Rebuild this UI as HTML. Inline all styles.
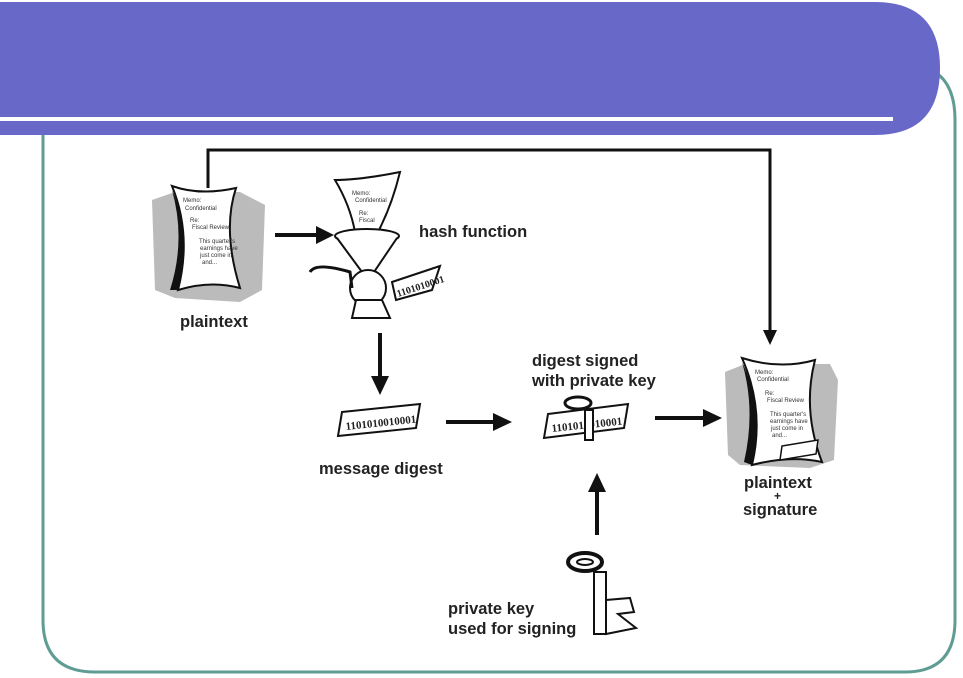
<!DOCTYPE html>
<html><head><style>
html,body{margin:0;padding:0;background:#fff;}
svg{display:block;}
text{font-family:"Liberation Sans",Arial,sans-serif;font-weight:bold;fill:#222;}
.s{font-weight:normal;font-size:6px;fill:#333;}
.l{font-size:16.5px;}
</style></head><body>
<svg width="963" height="678" viewBox="0 0 963 678" xmlns="http://www.w3.org/2000/svg">
<path d="M43,135 V620 Q43,672 95,672 H905 Q955,672 955,620 V120 Q955,85 935,72" fill="none" stroke="#5f9d94" stroke-width="3"/>
<path d="M0,2 H875 Q940,2 940,68 Q940,135 875,135 H0 Z" fill="#6868c8"/>
<rect x="0" y="117" width="893" height="4" fill="#fff"/>

<path d="M208,188 V150 H770 V333" fill="none" stroke="#111" stroke-width="3"/>
<polygon points="763,330 777,330 770,345" fill="#111"/>
<line x1="275" y1="235" x2="320" y2="235" stroke="#111" stroke-width="4"/>
<polygon points="316,226 334,235 316,244" fill="#111"/>
<line x1="380" y1="333" x2="380" y2="380" stroke="#111" stroke-width="4"/>
<polygon points="371,376 389,376 380,395" fill="#111"/>
<line x1="446" y1="422" x2="495" y2="422" stroke="#111" stroke-width="4"/>
<polygon points="493,413 512,422 493,431" fill="#111"/>
<line x1="655" y1="418" x2="705" y2="418" stroke="#111" stroke-width="4"/>
<polygon points="703,409 722,418 703,427" fill="#111"/>
<line x1="597" y1="535" x2="597" y2="490" stroke="#111" stroke-width="4"/>
<polygon points="588,492 606,492 597,473" fill="#111"/>

<path d="M152,200 L175,192 L240,192 L265,205 L262,290 L240,302 L175,298 L155,290 Z" fill="#bbb"/>
<path d="M172,186 Q200,196 236,188 Q222,230 240,288 Q210,280 178,290 Q192,235 172,186 Z" fill="#fff" stroke="#111" stroke-width="2"/>
<path d="M172,190 Q186,240 170,290 L178,290 Q192,235 172,190Z" fill="#111"/>
<text class="s" x="183" y="202">Memo:</text><text class="s" x="185" y="210">Confidential</text>
<text class="s" x="190" y="222">Re:</text><text class="s" x="192" y="229">Fiscal Review</text>
<text class="s" x="199" y="243">This quarter's</text><text class="s" x="200" y="250">earnings have</text><text class="s" x="200" y="257">just come in</text><text class="s" x="202" y="264">and...</text>

<path d="M335,180 Q360,180 400,172 Q392,205 378,232 L355,232 Q350,205 335,180Z" fill="#fff" stroke="#111" stroke-width="2"/>
<text class="s" x="352" y="195">Memo:</text><text class="s" x="355" y="202">Confidential</text>
<text class="s" x="359" y="215">Re:</text><text class="s" x="359" y="222">Fiscal</text>
<ellipse cx="367" cy="236" rx="32" ry="7" fill="#fff" stroke="#111" stroke-width="2"/>
<path d="M337,238 L362,272 L374,272 L397,238" fill="#fff" stroke="#111" stroke-width="2"/>
<ellipse cx="368" cy="288" rx="18" ry="18" fill="#fff" stroke="#111" stroke-width="2"/>
<path d="M310,272 Q316,262 350,272 L352,288" fill="none" stroke="#111" stroke-width="3"/>
<path d="M356,300 L352,318 L390,318 L382,300Z" fill="#fff" stroke="#111" stroke-width="2"/>
<path d="M392,282 L440,266 L432,290 L396,300Z" fill="#fff" stroke="#111" stroke-width="2"/>
<text x="398" y="297" font-size="10" transform="rotate(-18 398 297)" style="font-family:'Liberation Serif',serif">1101010001</text>
<text class="l" x="419" y="237">hash function</text>

<text class="l" x="180" y="327">plaintext</text>

<path d="M342,412 L420,404 L416,428 L338,436Z" fill="#fff" stroke="#111" stroke-width="2"/>
<text x="346" y="430" font-size="11" transform="rotate(-6 346 430)" style="font-family:'Liberation Serif',serif">1101010010001</text>
<text class="l" x="319" y="474">message digest</text>

<text class="l" x="532" y="366">digest signed</text>
<text class="l" x="532" y="386">with private key</text>
<path d="M548,414 L628,404 L624,428 L544,438Z" fill="#fff" stroke="#111" stroke-width="2"/>
<text x="552" y="432" font-size="11" transform="rotate(-6 552 432)" style="font-family:'Liberation Serif',serif">1101010010001</text>
<ellipse cx="578" cy="403" rx="13" ry="6" fill="#fff" stroke="#111" stroke-width="3"/>
<rect x="585" y="410" width="8" height="30" fill="#fff" stroke="#111" stroke-width="2"/>

<path d="M725,372 L745,364 L830,364 L838,380 L834,460 L810,468 L740,465 L728,455Z" fill="#bbb"/>
<path d="M742,358 Q780,370 815,360 Q802,410 822,462 Q790,455 752,465 Q765,410 742,358Z" fill="#fff" stroke="#111" stroke-width="2"/>
<path d="M742,362 Q756,410 744,462 L752,465 Q765,410 742,362Z" fill="#111"/>
<text class="s" x="755" y="374">Memo:</text><text class="s" x="757" y="381">Confidential</text>
<text class="s" x="765" y="395">Re:</text><text class="s" x="767" y="402">Fiscal Review</text>
<text class="s" x="770" y="416">This quarter's</text><text class="s" x="770" y="423">earnings have</text><text class="s" x="771" y="430">just come in</text><text class="s" x="772" y="437">and...</text>
<path d="M782,446 L818,440 L816,454 L780,460Z" fill="#fff" stroke="#111" stroke-width="1.5"/>
<text class="l" x="744" y="488">plaintext</text>
<text x="774" y="500" font-size="12">+</text>
<text class="l" x="743" y="515">signature</text>

<ellipse cx="585" cy="562" rx="17" ry="9" fill="#fff" stroke="#111" stroke-width="4"/>
<ellipse cx="585" cy="562" rx="8" ry="3" fill="#fff" stroke="#111" stroke-width="2"/>
<rect x="594" y="572" width="12" height="62" fill="#fff" stroke="#111" stroke-width="2"/>
<path d="M606,600 L630,598 L634,612 L618,614 L636,628 L606,634Z" fill="#fff" stroke="#111" stroke-width="2"/>
<text class="l" x="448" y="614">private key</text>
<text class="l" x="448" y="634">used for signing</text>
</svg>
</body></html>
